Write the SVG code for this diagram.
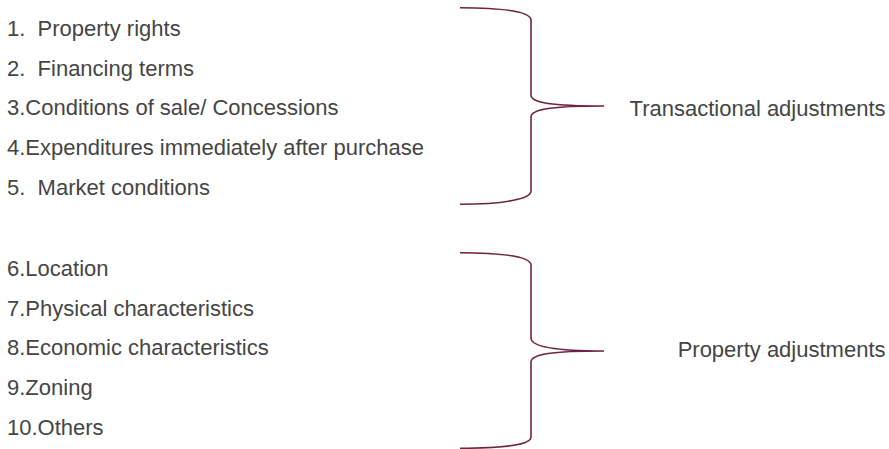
<svg xmlns="http://www.w3.org/2000/svg" width="889" height="449" viewBox="0 0 889 449">
<style>
text { font-family: "Liberation Sans", Arial, sans-serif; font-size: 22px; fill: #454545; white-space: pre; }
.lbl { text-anchor: end; }
.brace { fill: none; stroke: #6e2443; stroke-width: 1.6; }
</style>
<rect width="889" height="449" fill="#ffffff"/>
<g id="item1"><text x="7" y="36" xml:space="preserve">1.  Property rights</text></g>
<g id="item2"><text x="7" y="75.7" xml:space="preserve">2.  Financing terms</text></g>
<g id="item3"><text x="7" y="115.4">3.Conditions of sale/ Concessions</text></g>
<g id="item4"><text x="7" y="155">4.Expenditures immediately after purchase</text></g>
<g id="item5"><text x="7" y="194.7" xml:space="preserve">5.  Market conditions</text></g>
<g id="item6"><text x="7" y="276">6.Location</text></g>
<g id="item7"><text x="7" y="315.7">7.Physical characteristics</text></g>
<g id="item8"><text x="7" y="355.4">8.Economic characteristics</text></g>
<g id="item9"><text x="7" y="395">9.Zoning</text></g>
<g id="item10"><text x="7" y="434.7">10.Others</text></g>
<g id="transactional"><text class="lbl" x="885.5" y="115.7">Transactional adjustments</text></g>
<g id="property"><text class="lbl" x="885.5" y="356.7">Property adjustments</text></g>
<g id="connectors">
<path class="brace" d="M460,7.7 C505,8 531,12 531,20 L531,95 C531,103 552,106 604,106 C552,106 531,109 531,117 L531,191 C531,199 505,204 460,204.3"/>
<path class="brace" d="M460,252.7 C505,253 531,257 531,265 L531,338 C531,346 552,351 604,351 C552,351 531,354 531,362 L531,437 C531,445 505,448 460,448.3"/>
</g>
</svg>
